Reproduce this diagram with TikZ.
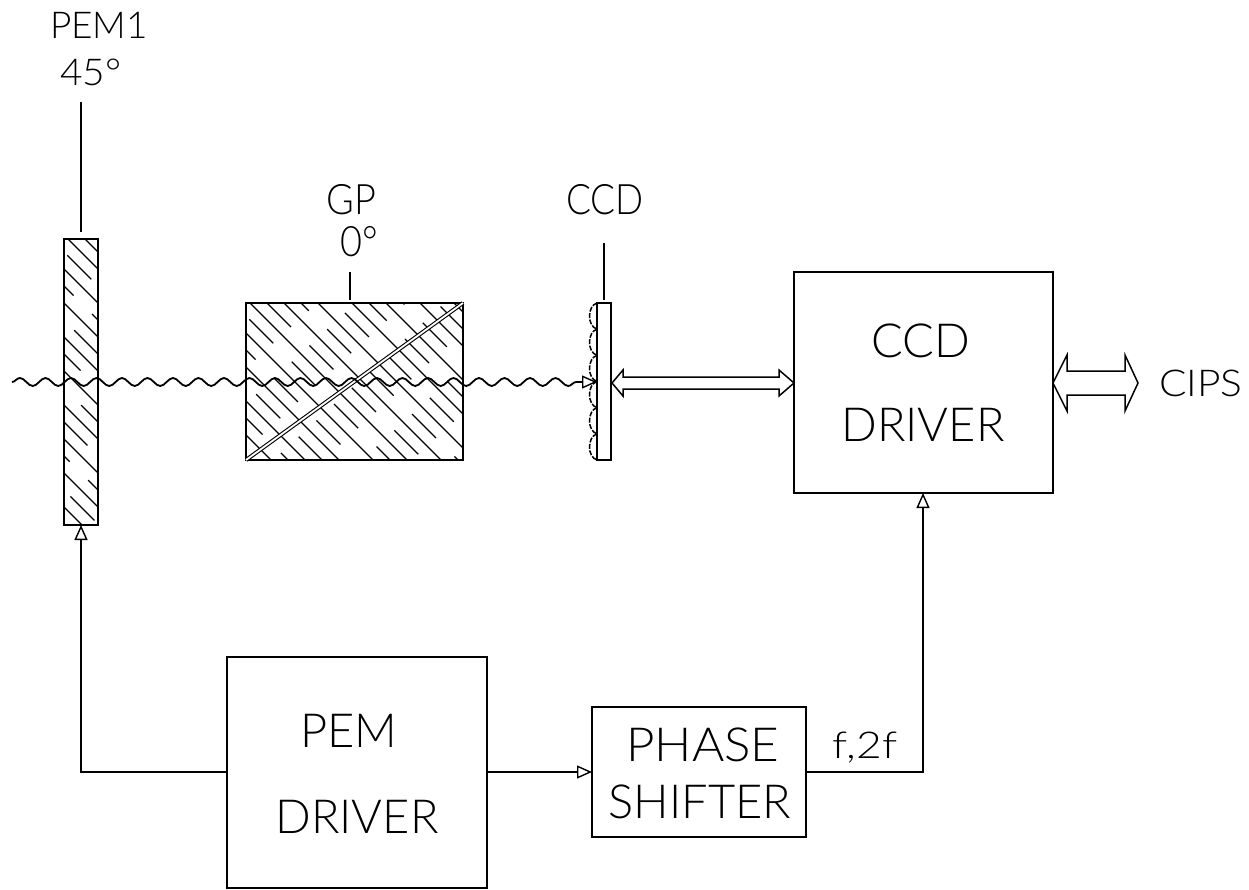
\documentclass[tikz,border=0pt]{standalone}
\usepackage{fontspec}
\setsansfont{Lato Light}[BoldFont={Lato}]
\usetikzlibrary{arrows.meta,calc,decorations.pathmorphing}
\renewcommand{\familydefault}{\sfdefault}
\newcommand{\fsz}[1]{\fontsize{#1}{#1}\selectfont}
\tikzset{
  ln/.style={line width=1.5pt,black},
  box/.style={ln,draw,fill=white,inner sep=0pt,outer sep=0pt,rectangle},
  lbl/.style={inner sep=0pt,outer sep=0pt,text=black,anchor=center},
  big/.style={lbl,font=\fsz{47}},
  mid/.style={lbl,font=\fsz{42}},
  small/.style={lbl,font=\fsz{37}},
  opentip/.style={-{Triangle[open,fill=white,length=15pt,width=13pt,line width=1.4pt]}},
  hollow/.style={ln,fill=white,line join=miter},
  hatchlong/.style={line width=1.2pt,black},
  hatchshort/.style={line width=1.2pt,black,dash pattern=on 34pt off 26pt},
}
\newcommand{\hatchbox}[1]{%
  \begin{scope}
    \clip (#1.north west) rectangle (#1.south east);
    \foreach \i in {-14,...,14} {
      \draw[hatchlong] ($(#1.north west)+(\i*34+4,0)$) -- +(500,500);
      \draw[hatchshort,dash phase=\i*23] ($(#1.north west)+(\i*34+21,0)$) -- +(500,500);
    }
  \end{scope}
  \draw[ln] (#1.north west) rectangle (#1.south east);
}
\begin{document}
\begin{tikzpicture}[x=1pt,y=-1pt]
\useasboundingbox (0,0) rectangle (1249,890);
\fill[white] (0,0) rectangle (1249,890);

% optics
\node[box,minimum width=34pt,minimum height=286pt] (pem) at (81,382) {};
\node[box,minimum width=217pt,minimum height=157pt] (gp) at (354.5,381.5) {};
\node[box,minimum width=14pt,minimum height=157pt] (ccd) at (604,381.5) {};
\hatchbox{pem}
\hatchbox{gp}
% prism diagonal
\draw[line width=4pt,black] (gp.south west) -- (gp.north east);
\draw[line width=1.8pt,white] (gp.south west) -- (gp.north east);

% scalloped face of the CCD
\foreach \k in {0,...,5}
  \draw[line width=1.5pt,black,dash pattern=on 5pt off 1.5pt] ($(ccd.north west)+(0,\k*26.17)$) .. controls +(-10,3) and +(-10,-3) .. +(0,26.17);

% electronics
\node[box,minimum width=259pt,minimum height=221pt] (ccddrv) at (923.5,382.5) {};
\node[box,minimum width=260pt,minimum height=231pt] (pemdrv) at (357,772.5) {};
\node[box,minimum width=214pt,minimum height=130pt] (phase) at (699,772) {};

% labels
\node[small] (tpem) at (99,25) {PEM1};
\node[small,xscale=1.05] (tpemang) at (91,72) {45°};
\node[mid,xscale=.9] (tgp) at (351.5,200) {GP};
\node[mid,xscale=.9] (tgpang) at (359,242) {0°};
\node[mid,xscale=.88] (tccd) at (605,200) {CCD};
\node[big] (t1) at (920.5,341) {CCD};
\node[big] (t2) at (923,425) {DRIVER};
\node[big] (t3) at (349,731) {PEM};
\node[big] (t4) at (357,817) {DRIVER};
\node[big,xscale=1.05] (t5) at (703,745) {PHASE};
\node[big] (t6) at (700,802) {SHIFTER};
\node[small,xscale=1.1] (tcips) at (1201,383.5) {CIPS};
\node[small,xscale=1.2] (tf) at (865,748) {f,2f};

% leaders
\coordinate (lp) at (81,102);
\coordinate (lg) at (350,272);
\coordinate (lc) at (604,243);
\draw[ln] (lp) -- ($(pem.north)+(0,-7)$);
\draw[ln] (lg) -- ($(gp.north)+(-4.5,-3)$);
\draw[ln] (lc) -- ($(ccd.north)+(0,-3)$);

% light ray
\coordinate (ws) at (12,382);
\coordinate (we) at (597,382);
\draw[line width=1.8pt,black,opentip,decorate,decoration={snake,segment length=25.5pt,amplitude=4pt,post length=14pt}] (ws) -- (we);

% signal lines
\coordinate (c1) at (81,772);
\coordinate (c2) at (923,772);
\draw[ln,opentip] (pemdrv.west |- c1) -- (c1) -- (pem.south);
\draw[ln,opentip] (pemdrv.east |- c1) -- (phase.west);
\draw[ln,opentip] (phase.east |- c2) -- (c2) -- (ccddrv.south -| c2);

% hollow double arrows
\coordinate (a1) at ($(ccd.east)+(1,1.5)$);
\coordinate (a2) at ($(ccddrv.west)+(0,.5)$);
\draw[hollow] (a1) -- ++(11,-13) -- ++(0,7) -- ($(a2)+(-15,-6)$) -- ++(0,-7) -- (a2) -- ++(-15,13) -- ++(0,-7) -- ($(a1)+(11,6)$) -- ++(0,7) -- cycle;
\coordinate (b1) at ($(ccddrv.east)+(0,.5)$);
\coordinate (b2) at (1138,383);
\draw[hollow] (b1) -- ++(14,-28) -- ++(0,16) -- ($(b2)+(-13,-12)$) -- ++(0,-16) -- (b2) -- ++(-13,28) -- ++(0,-16) -- ($(b1)+(14,12)$) -- ++(0,16) -- cycle;
\end{tikzpicture}
\end{document}
